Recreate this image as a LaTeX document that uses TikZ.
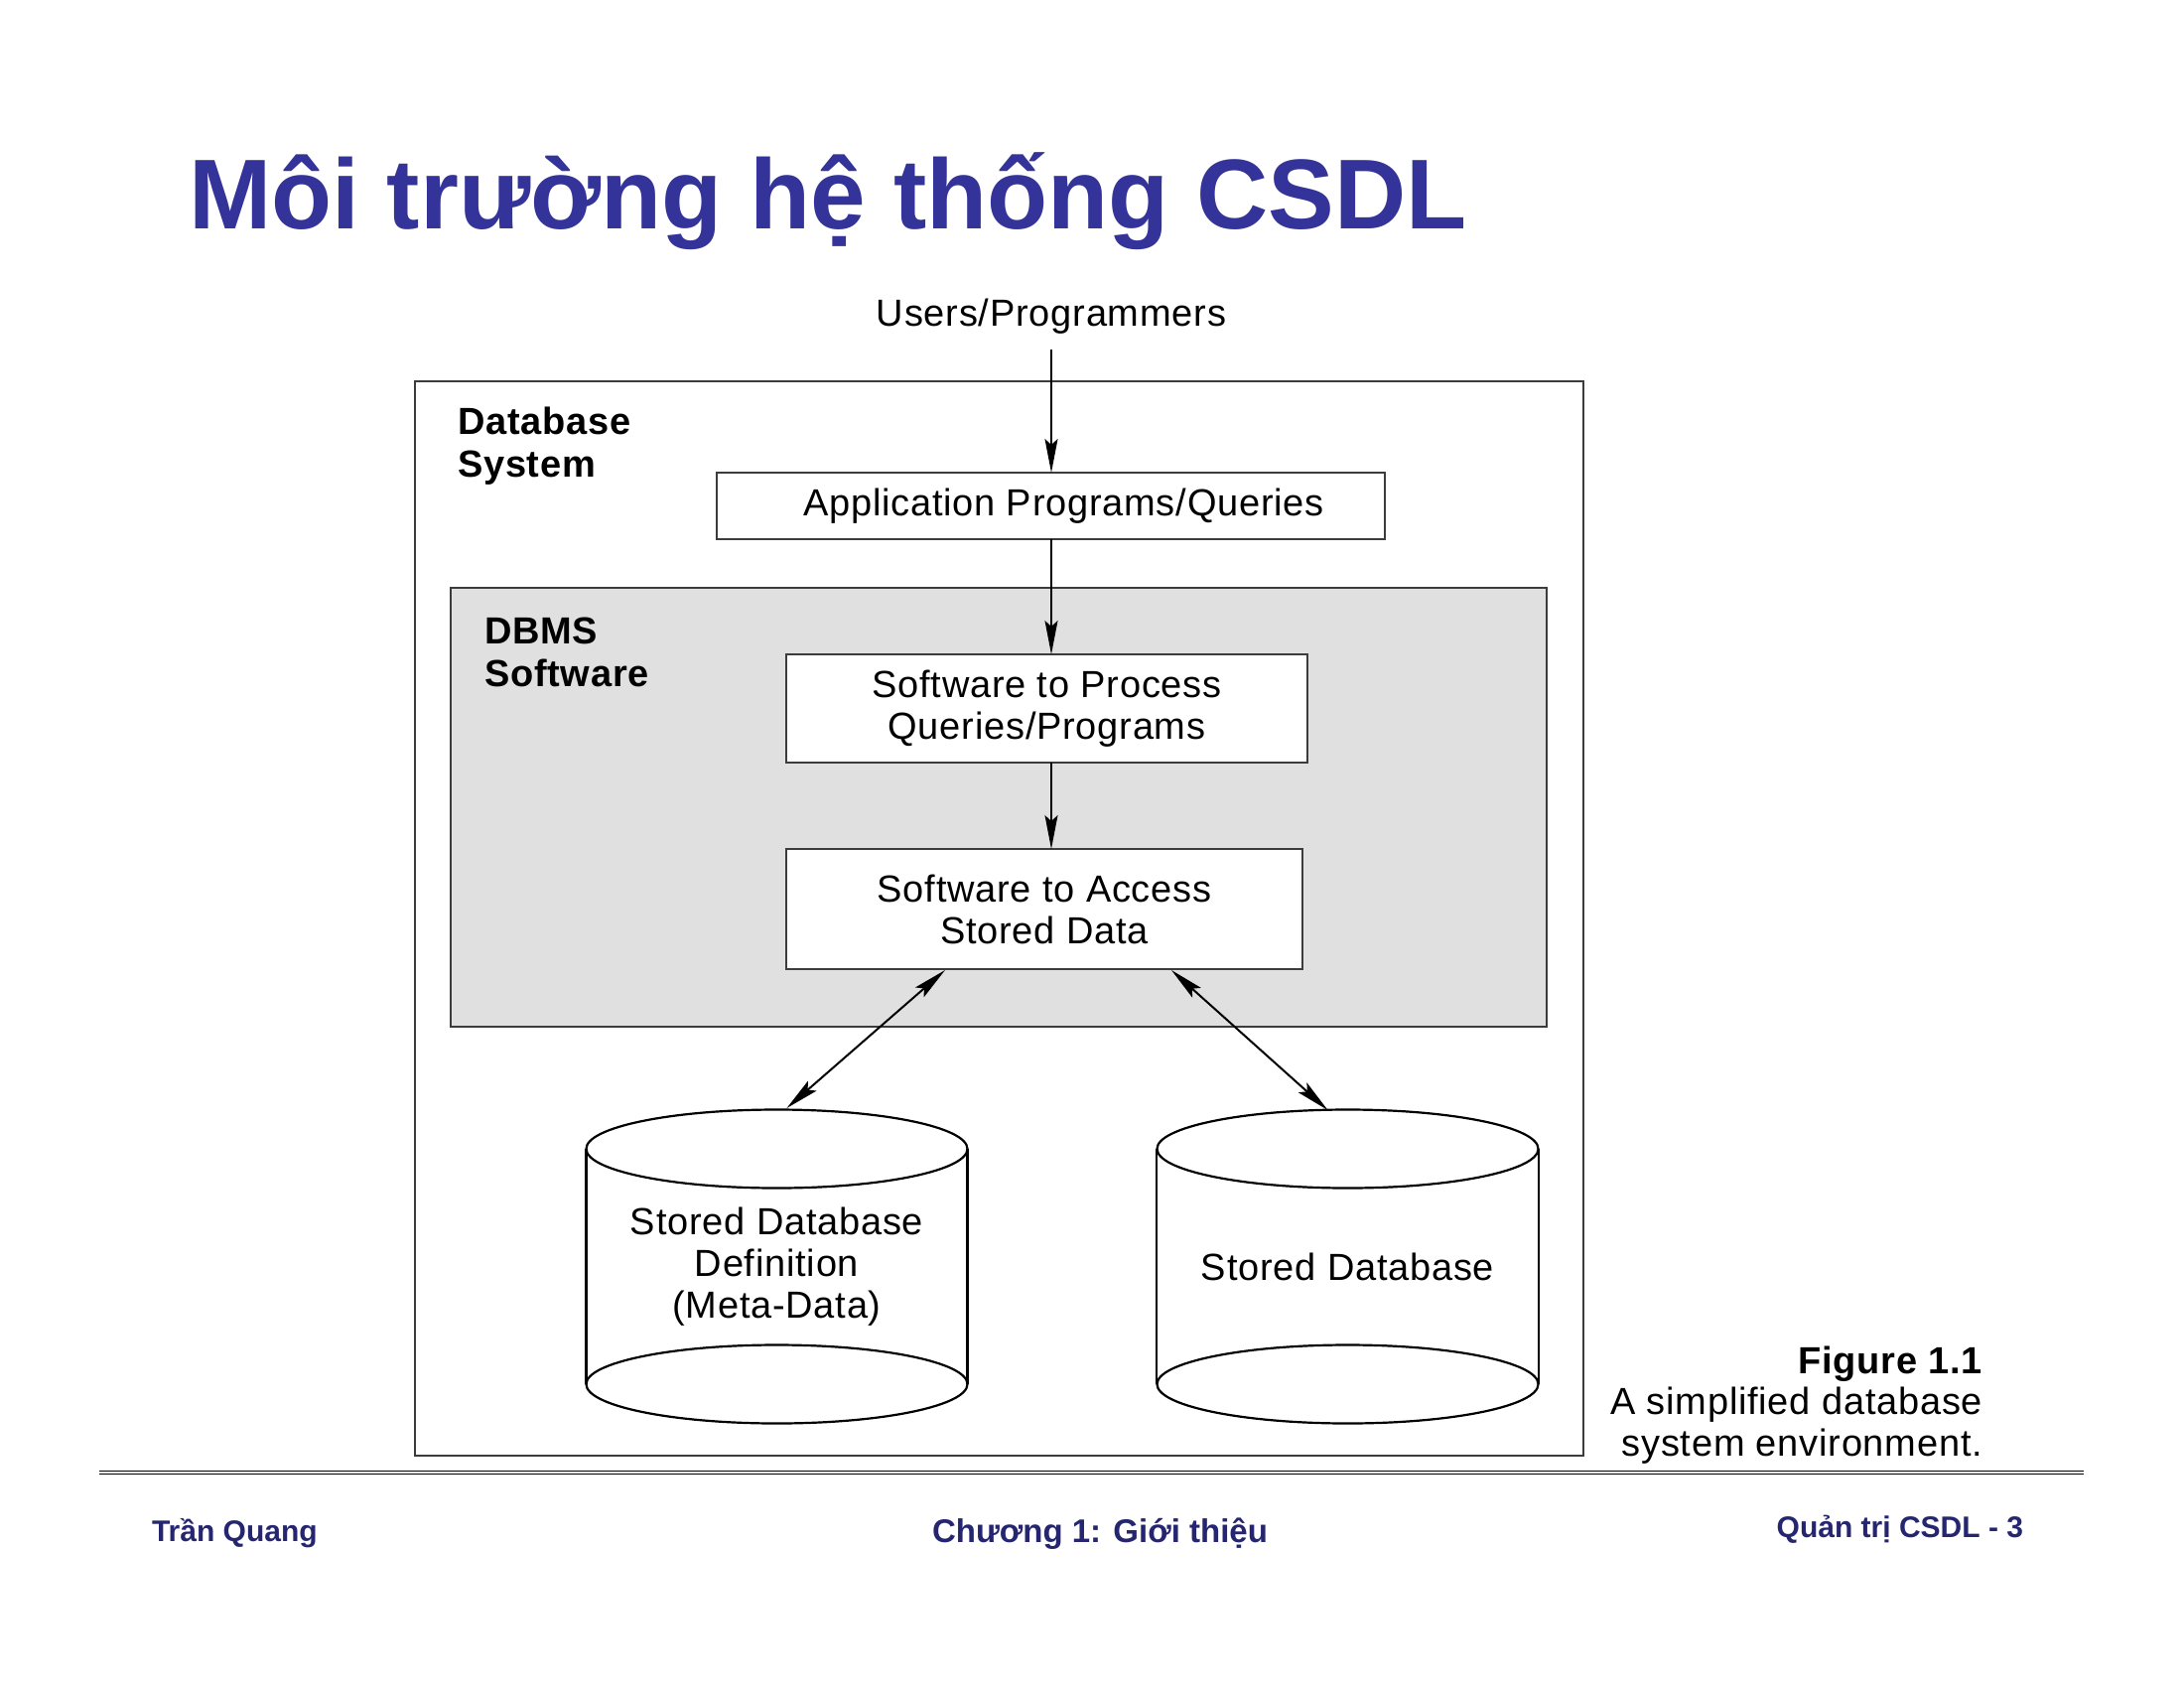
\documentclass[tikz,border=0pt]{standalone}
\usepackage{fontspec}
\setmainfont{Liberation Sans}
\newfontfamily\diagfont[LetterSpace=2]{Liberation Sans}
\usetikzlibrary{arrows.meta,calc}
\definecolor{titleblue}{RGB}{51,51,153}
\definecolor{footblue}{RGB}{38,38,112}
\definecolor{dbmsgray}{RGB}{224,224,224}
\definecolor{boxline}{RGB}{60,60,60}
\begin{document}
\begin{tikzpicture}[x=1pt,y=-1pt,
  every node/.style={inner sep=0pt,outer sep=0pt},
  lbl/.style={font=\diagfont\fontsize{38pt}{42pt}\selectfont,align=center},
  blbl/.style={font=\diagfont\fontsize{38pt}{43pt}\selectfont\bfseries,align=left,anchor=base west},
  procbox/.style={draw=boxline,line width=2.5pt,fill=white,lbl},
  frame/.style={draw=boxline,line width=2.5pt},
  arr/.style={line width=2pt,-{Stealth[length=34pt,width=13pt,inset=6pt]}},
  dblarr/.style={line width=2pt,{Stealth[length=34pt,width=13pt,inset=6pt]}-{Stealth[length=34pt,width=13pt,inset=6pt]}},
  cyl/.style={line width=2.2pt},
  foot/.style={font=\fontsize{30pt}{34pt}\selectfont\bfseries,text=footblue,anchor=base}
]
\useasboundingbox (0,0) rectangle (2200,1700);
\fill[white] (0,0) rectangle (2200,1700);

% title
\node[anchor=base west,font=\fontsize{100pt}{120pt}\selectfont\bfseries,text=titleblue] (title) at (190,230) {Môi trường hệ thống CSDL};

% outer database system box
\node[frame,minimum width=1177pt,minimum height=1082pt] (dbsys) at (1006.5,925) {};
\node[blbl] (dbsyslbl) at (461,480) {Database\\System};

% dbms gray box
\node[frame,fill=dbmsgray,minimum width=1104pt,minimum height=442pt] (dbms) at (1006,813) {};
\node[blbl] (dbmslbl) at (488,691) {DBMS\\Software};

% users
\node[lbl,anchor=base] (users) at (1059,328) {Users/Programmers};
\coordinate (ustart) at (1059,352);

% boxes
\node[procbox,minimum width=673pt,minimum height=67pt] (app) at (1058.5,509.5) {\hspace{26pt}Application Programs/Queries};
\node[procbox,minimum width=525pt,minimum height=109pt] (process) at (1054.5,713.5) {Software to Process\\Queries/Programs};
\node[procbox,minimum width=520pt,minimum height=121pt] (access) at (1052,915.5) {Software to Access\\Stored Data};

% arrows
\draw[arr] (ustart) -- (ustart |- app.north);
\draw[arr] (app.south -| ustart) -- (process.north -| ustart);
\draw[arr] (process.south -| ustart) -- (access.north -| ustart);

% cylinders
\node[lbl,minimum width=384pt,minimum height=237pt] (meta) at (782.5,1275.5) {Stored Database\\Definition\\(Meta-Data)};
\node[lbl,minimum width=385pt,minimum height=237pt] (stored) at (1357.5,1275.5) {Stored Database};
\foreach \c in {meta,stored}{
  \draw[cyl] (\c.north) ellipse [x radius=192pt,y radius=39.5pt];
  \draw[cyl] (\c.south) ellipse [x radius=192pt,y radius=39.5pt];
  \draw[cyl] (\c.north west) -- (\c.south west);
  \draw[cyl] (\c.north east) -- (\c.south east);
}

\draw[dblarr] ([xshift=160pt,yshift=-1pt]access.south west) -- ([xshift=10pt,yshift=41pt]meta.north);
\draw[dblarr] ([xshift=388pt,yshift=-1pt]access.south west) -- ([xshift=-20pt,yshift=39pt]stored.north);

% caption
\node[anchor=base east,font=\diagfont\fontsize{38pt}{42pt}\selectfont\bfseries] (figno) at (1997,1383) {Figure 1.1};
\node[anchor=base east,font=\diagfont\fontsize{38pt}{42pt}\selectfont] (cap1) at (1997,1424) {A simplified database};
\node[anchor=base east,font=\diagfont\fontsize{38pt}{42pt}\selectfont] (cap2) at (1997,1466) {system environment.};

% divider
\coordinate (dl) at (100,1483);
\coordinate (dr) at (2099,1483);
\draw[line width=4.2pt,black] (dl) -- (dr);
\draw[line width=1.2pt,white] (dl) -- (dr);

% footer
\node[foot,anchor=base west] (fl) at (153,1552) {Trần Quang};
\node[foot,font=\fontsize{33pt}{38pt}\selectfont\bfseries] (fc) at (1108,1553) {Chương 1: Giới thiệu};
\node[foot,anchor=base east] (fr) at (2038,1548) {Quản trị CSDL - 3};
\end{tikzpicture}
\end{document}
